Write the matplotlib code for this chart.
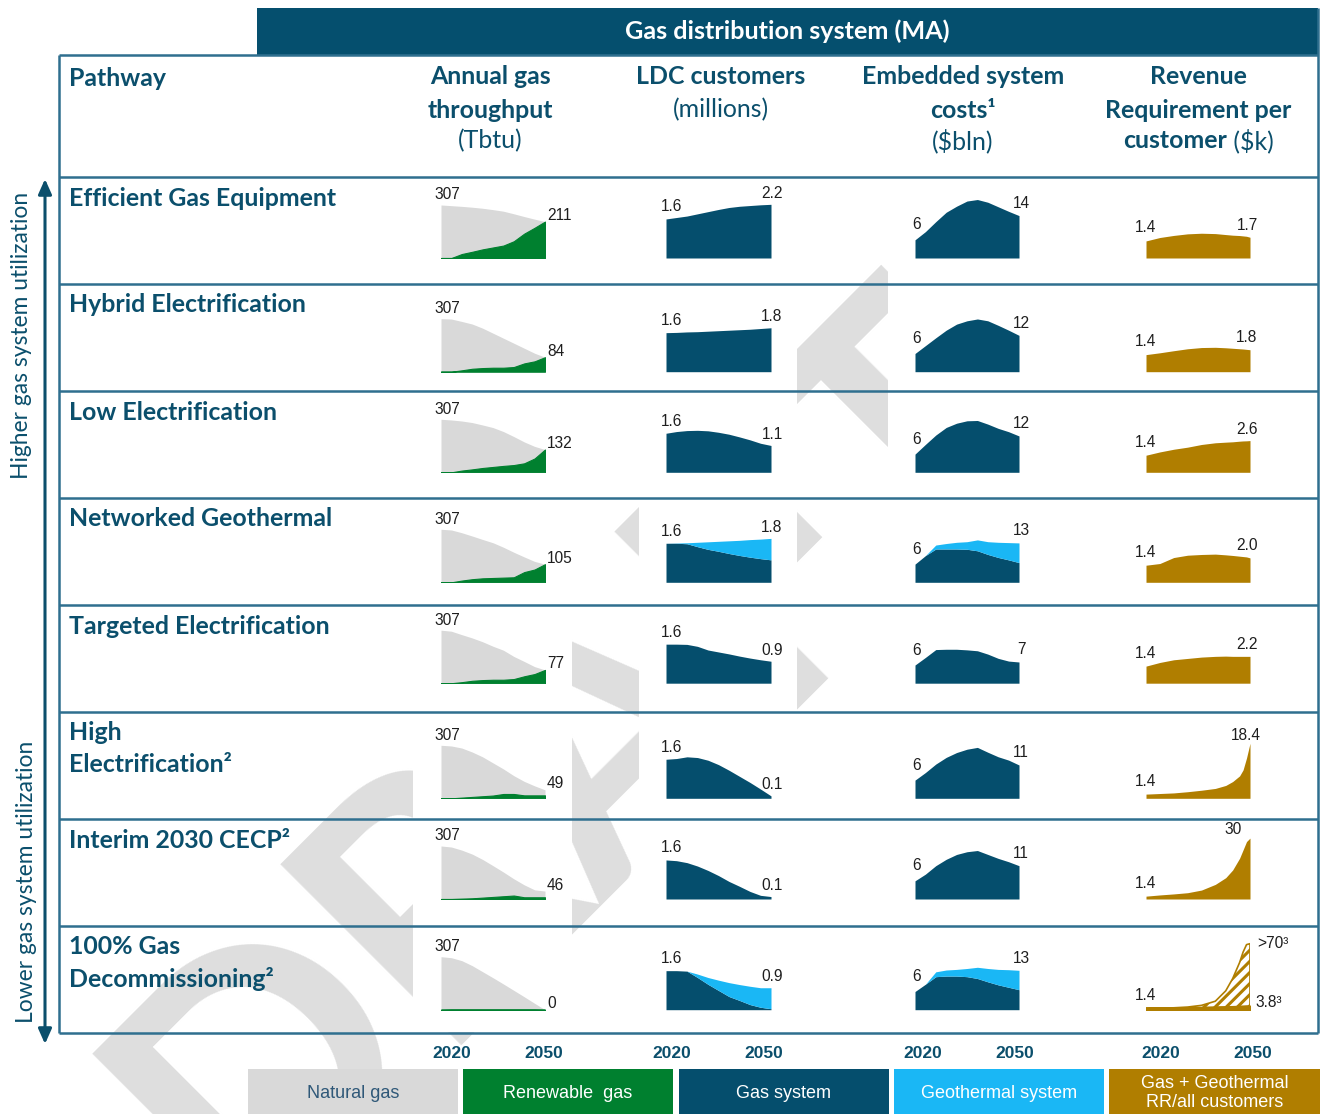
import matplotlib
matplotlib.use("Agg")
import matplotlib.pyplot as plt
import numpy as np
from matplotlib.patches import Rectangle, FancyArrowPatch

plt.rcParams["hatch.linewidth"] = 2.2

# ---------------------------------------------------------------- data
years = [2020, 2023, 2026, 2029, 2032, 2035, 2038, 2041, 2044, 2047, 2050]
rr_years = [2020, 2024, 2028, 2032, 2036, 2040, 2043, 2045, 2047, 2048, 2049, 2050]

pathways = ["Efficient Gas Equipment", "Hybrid Electrification", "Low Electrification",
            "Networked Geothermal", "Targeted Electrification", "High\nElectrification²",
            "Interim 2030 CECP²", "100% Gas\nDecommissioning²"]

# Annual gas throughput (Tbtu): total and renewable share
throughput_total = [
    [307, 303, 299, 294, 288, 280, 271, 256, 240, 225, 211],
    [307, 305, 291, 276, 252, 223, 194, 165, 136, 107, 84],
    [307, 303, 297, 288, 274, 259, 236, 207, 176, 150, 132],
    [307, 303, 287, 268, 248, 229, 203, 174, 147, 121, 105],
    [307, 301, 281, 262, 240, 214, 191, 155, 126, 96, 77],
    [307, 303, 291, 268, 240, 205, 170, 131, 98, 72, 49],
    [307, 301, 283, 260, 229, 193, 156, 117, 82, 53, 46],
    [307, 301, 284, 255, 220, 185, 149, 112, 75, 37, 0],
]
renewable_gas = [
    [0, 0, 23, 36, 50, 61, 72, 97, 141, 175, 211],
    [0, 0, 8, 17, 21, 23, 23, 27, 48, 60, 84],
    [0, 0, 10, 17, 25, 31, 37, 42, 52, 80, 132],
    [0, 0, 10, 18, 23, 25, 27, 29, 59, 74, 105],
    [0, 0, 6, 14, 18, 20, 20, 24, 40, 53, 77],
    [0, 0, 4, 8, 12, 16, 25, 25, 17, 17, 17],
    [0, 0, 2, 4, 8, 12, 16, 20, 10, 10, 10],
    [0, 1, 1, 1, 1, 1, 1, 1, 1, 1, 0],
]

# LDC customers (millions): gas system and geothermal system
ldc_gas = [
    [1.60, 1.66, 1.72, 1.81, 1.90, 1.99, 2.07, 2.12, 2.15, 2.18, 2.2],
    [1.60, 1.61, 1.63, 1.64, 1.66, 1.68, 1.70, 1.72, 1.74, 1.77, 1.8],
    [1.60, 1.67, 1.71, 1.72, 1.70, 1.64, 1.56, 1.45, 1.33, 1.19, 1.1],
    [1.60, 1.60, 1.58, 1.46, 1.35, 1.27, 1.18, 1.10, 1.03, 0.97, 0.92],
    [1.60, 1.60, 1.59, 1.51, 1.36, 1.28, 1.20, 1.11, 1.03, 0.96, 0.9],
    [1.60, 1.63, 1.70, 1.67, 1.56, 1.38, 1.15, 0.90, 0.65, 0.38, 0.1],
    [1.60, 1.57, 1.49, 1.35, 1.17, 0.96, 0.72, 0.52, 0.31, 0.15, 0.1],
    [1.60, 1.60, 1.58, 1.32, 1.04, 0.79, 0.54, 0.38, 0.21, 0.10, 0.04],
]
ldc_geo = [
    [0] * 11, [0] * 11, [0] * 11,
    [0, 0.01, 0.04, 0.18, 0.31, 0.41, 0.52, 0.62, 0.72, 0.80, 0.88],
    [0] * 11, [0] * 11, [0] * 11,
    [0, 0, 0, 0.14, 0.28, 0.42, 0.57, 0.65, 0.75, 0.80, 0.86],
]

# Embedded system costs ($bln): gas system and geothermal system
cost_gas = [
    [6, 8.7, 12.0, 15.1, 17.1, 18.8, 19.3, 18.4, 16.9, 15.4, 14],
    [6, 8.6, 11.2, 13.7, 15.7, 16.8, 17.4, 16.8, 15.3, 13.7, 12],
    [6, 9.2, 12.3, 14.8, 16.2, 17.0, 17.1, 15.9, 14.5, 13.4, 12],
    [6, 8.8, 11.0, 11.0, 11.0, 10.9, 10.4, 9.2, 8.2, 7.4, 6.5],
    [6, 8.5, 11.1, 11.2, 11.2, 11.0, 10.7, 9.6, 8.2, 7.3, 7],
    [6, 8.5, 11.3, 13.5, 15.1, 16.2, 16.8, 15.2, 13.7, 12.6, 11],
    [6, 8.2, 11.0, 13.1, 14.7, 15.6, 16.0, 14.7, 13.4, 12.3, 11],
    [6, 8.4, 10.9, 11.1, 11.1, 10.9, 10.3, 9.2, 8.2, 7.4, 6.6],
]
cost_geo = [
    [0] * 11, [0] * 11, [0] * 11,
    [0, 0, 1.3, 1.8, 2.2, 2.5, 3.6, 4.2, 5.0, 5.7, 6.5],
    [0] * 11, [0] * 11, [0] * 11,
    [0, 0, 1.6, 2.0, 2.2, 2.7, 3.7, 4.4, 5.1, 5.8, 6.4],
]

# Revenue requirement per customer ($k)
rr_gas = [
    [1.4, 1.68, 1.85, 1.98, 2.03, 2.0, 1.92, 1.87, 1.84, 1.81, 1.78, 1.7],
    [1.4, 1.55, 1.72, 1.88, 1.98, 2.0, 1.96, 1.92, 1.88, 1.86, 1.83, 1.8],
    [1.4, 1.67, 1.89, 2.06, 2.28, 2.42, 2.47, 2.50, 2.55, 2.57, 2.58, 2.6],
    [1.4, 1.54, 2.03, 2.22, 2.28, 2.31, 2.25, 2.20, 2.14, 2.11, 2.08, 2.0],
    [1.4, 1.70, 1.92, 2.03, 2.14, 2.20, 2.22, 2.2, 2.2, 2.2, 2.2, 2.2],
    [1.4, 1.6, 1.8, 2.2, 2.7, 3.3, 4.3, 5.6, 7.5, 9.5, 13.5, 18.4],
    [1.4, 2.0, 2.5, 3.1, 4.4, 7.2, 10.5, 14.3, 20.1, 24.2, 28.3, 30],
    [1.4, 1.5, 1.7, 1.9, 2.2, 2.6, 2.9, 3.1, 3.4, 3.5, 3.7, 3.8],
]
rr_all_customers = [1.4, 1.6, 2.0, 2.8, 4.6, 9, 20, 33, 50, 61, 69, 70]

gas_start_label = "307"
gas_end_labels = ["211", "84", "132", "105", "77", "49", "46", "0"]
ldc_start_label = "1.6"
ldc_end_labels = ["2.2", "1.8", "1.1", "1.8", "0.9", "0.1", "0.1", "0.9"]
cost_start_label = "6"
cost_end_labels = ["14", "12", "12", "13", "7", "11", "11", "13"]
rr_start_label = "1.4"
rr_end_labels = ["1.7", "1.8", "2.6", "2.0", "2.2", "18.4", "30", ">70³"]
rr_gas_end_label = "3.8³"

year_labels = ["2020", "2050"]
legend_labels = ["Natural gas", "Renewable  gas", "Gas system", "Geothermal system",
                 "Gas + Geothermal\nRR/all customers"]

# ---------------------------------------------------------------- style
NAVY = "#054E6D"
TXT = "#0B4F6C"
LINE = "#2F6F8F"
GREY = "#D9D9D9"
GREEN = "#00802F"
CYAN = "#1AB7F5"
GOLD = "#B07E00"
NUM_COLOR = "#1E1E1E"
legend_colors = [GREY, GREEN, NAVY, CYAN, GOLD]
legend_text_colors = ["#2F5878", "white", "white", "white", "white"]

HEAD_FONT = ["Lato", "DejaVu Sans"]
NUM_FONT = ["Liberation Sans", "DejaVu Sans"]
NUM_FS = 11.2

W, H = 1325, 1114
fig = plt.figure(figsize=(W / 100, H / 100), dpi=100)
bg = fig.add_axes([0, 0, 1, 1])
bg.set_xlim(0, W)
bg.set_ylim(H, 0)
bg.axis("off")

# faint watermark behind the table
mark = bg.text(651, 827, "DRAFT", rotation=0, fontsize=200, color="#DEDEDE",
               fontweight="bold", family=HEAD_FONT, ha="center", va="baseline",
               rotation_mode="anchor", zorder=0)

# white chart cells hide the watermark behind the graphs
for xa, xb in [(413, 572), (639, 797), (888, 1047), (1060, 1317)]:
    bg.add_patch(Rectangle((xa, 178), xb - xa, 1032 - 178, facecolor="white",
                           edgecolor="none", zorder=1))

# header band
bg.add_patch(Rectangle((257, 8), 1318 - 257, 47, facecolor="#054F6E",
                       edgecolor="none", zorder=2))
title = bg.text(787, 31, "Gas distribution system (MA)", color="white",
                fontweight="bold", family=HEAD_FONT, ha="center", va="center",
                fontsize=12, zorder=3)

# table frame and row separators
row_tops = [177, 284, 391, 498, 605, 712, 819, 926]
TABLE_L, TABLE_R, TABLE_T, TABLE_B = 59, 1318, 55, 1033
lkw = dict(color=LINE, lw=1.8, zorder=2, solid_capstyle="butt")
bg.plot([TABLE_L, TABLE_R], [TABLE_T, TABLE_T], **lkw)
bg.plot([TABLE_L, TABLE_L], [TABLE_T, TABLE_B], **lkw)
bg.plot([TABLE_R, TABLE_R], [8, TABLE_B], **lkw)
for yy in row_tops + [TABLE_B]:
    bg.plot([TABLE_L, TABLE_R], [yy, yy], **lkw)

# column headers
head_texts = []
def head(x, y, s, bold=True, ha="center"):
    t = bg.text(x, y, s, color=TXT, fontweight="bold" if bold else "normal",
                family=HEAD_FONT, ha=ha, va="center", fontsize=12, zorder=3)
    head_texts.append(t)
    return t

head(69, 78, "Pathway", ha="left")
head(490, 77, "Annual gas"); head(490, 110, "throughput"); head(490, 141, "(Tbtu)", bold=False)
head(721, 77, "LDC customers"); head(721, 110, "(millions)", bold=False)
head(963, 77, "Embedded system"); head(963, 110, "costs¹"); head(963, 141, "($bln)", bold=False)
head(1198, 77, "Revenue"); head(1198, 110, "Requirement per")
rr_bold = head(1198, 141, "customer", ha="left")
rr_reg = head(1198, 141, " ($k)", bold=False, ha="left")

# pathway names
row_texts = []
for top, name in zip(row_tops, pathways):
    for k, line in enumerate(name.split("\n")):
        row_texts.append(head(69, top + 21 + 32 * k, line, ha="left"))

# side arrow and labels
bg.add_patch(FancyArrowPatch((45, 1044), (45, 179), arrowstyle="<|-|>,head_length=9,head_width=4",
                             color=TXT, lw=2.2, zorder=3, shrinkA=0, shrinkB=0))
side_hi = bg.text(22, 335, "Higher gas system utilization", rotation=90, color=TXT,
                  family=HEAD_FONT, ha="center", va="center", fontsize=12, zorder=3)
side_lo = bg.text(27, 882, "Lower gas system utilization", rotation=90, color=TXT,
                  family=HEAD_FONT, ha="center", va="center", fontsize=12, zorder=3)

# scale the text so widths follow the table layout
fig.canvas.draw()
ren = fig.canvas.get_renderer()
ref = {"Efficient Gas Equipment": 266, "Hybrid Electrification": 236,
       "Low Electrification": 206, "Networked Geothermal": 265,
       "Targeted Electrification": 260, "Interim 2030 CECP²": 213}
ratios = [ref[t.get_text()] / t.get_window_extent(ren).width
          for t in row_texts if t.get_text() in ref]
head_fs = 12 * float(np.median(ratios))
for t in head_texts:
    t.set_fontsize(head_fs)
title.set_fontsize(12 * 324 / title.get_window_extent(ren).width)
side_hi.set_fontsize(12 * 286 / side_hi.get_window_extent(ren).height)
side_lo.set_fontsize(12 * 281 / side_lo.get_window_extent(ren).height)
mark.set_fontsize(200 * 1150 / mark.get_window_extent(ren).width)
mark.set_rotation(45)
fig.canvas.draw()
wb = rr_bold.get_window_extent(ren).width
wr = rr_reg.get_window_extent(ren).width
x0 = 1198 - (wb + wr) / 2
rr_bold.set_x(x0)
rr_reg.set_x(x0 + wb)

# ---------------------------------------------------------------- mini charts
baselines = [258, 371.7, 472.3, 582.3, 683.2, 798.3, 899, 1009.7]
AX_H = 80
gas_x, ldc_x, cost_x, rr_x = (441, 104), (666, 105), (915, 104), (1146, 104)
gas_px, ldc_px, cost_px = 0.1727, 24.4, 3.03          # pixels per unit
rr_px = [12.2, 12.2, 12.2, 12.2, 12.2, 2.99, 2.03, 0.943]
rr_end_dx = [-3, -3, -3, -3, -3, -4, -17, 7]
rr_end_dy = [12, 12, 11, 12, 12, 8, 9, 0]


def mini_axes(col, base, px_per_unit):
    x0, w = col
    ax = fig.add_axes([x0 / W, 1 - base / H, w / W, AX_H / H])
    ax.set_xlim(2020, 2050)
    ax.set_ylim(0, AX_H / px_per_unit)
    ax.axis("off")
    return ax


def num(ax, s, x, y, dx, dy, ha="center"):
    ax.annotate(s, (x, y), xytext=(dx, dy), textcoords="offset pixels", ha=ha,
                va="center", fontsize=NUM_FS, family=NUM_FONT, color=NUM_COLOR,
                annotation_clip=False)


for i, base in enumerate(baselines):
    # annual gas throughput
    ax = mini_axes(gas_x, base, gas_px)
    ax.fill_between(years, 0, throughput_total[i], color=GREY, lw=0)
    ax.fill_between(years, 0, renewable_gas[i], facecolor=GREEN, edgecolor=GREEN, lw=0.8)
    num(ax, gas_start_label, years[0], throughput_total[i][0], 6, 10)
    num(ax, gas_end_labels[i], years[-1], throughput_total[i][-1], 2, 6, ha="left")

    # LDC customers
    ax = mini_axes(ldc_x, base, ldc_px)
    g = np.array(ldc_gas[i])
    geo = np.array(ldc_geo[i])
    ax.fill_between(years, 0, g, color=NAVY, lw=0)
    if geo.any():
        ax.fill_between(years, g, g + geo, color=CYAN, lw=0)
    num(ax, ldc_start_label, years[0], g[0], 6, 12)
    num(ax, ldc_end_labels[i], years[-1], g[-1] + geo[-1], 1, 11)

    # embedded system costs
    ax = mini_axes(cost_x, base, cost_px)
    c = np.array(cost_gas[i])
    cg = np.array(cost_geo[i])
    ax.fill_between(years, 0, c, color=NAVY, lw=0)
    if cg.any():
        ax.fill_between(years, c, c + cg, color=CYAN, lw=0)
    num(ax, cost_start_label, years[0], c[0], 2, 15)
    num(ax, cost_end_labels[i], years[-1], c[-1] + cg[-1], 2, 12)

    # revenue requirement per customer
    ax = mini_axes(rr_x, base, rr_px[i])
    r = rr_gas[i]
    if i == len(baselines) - 1:
        ax.fill_between(rr_years, r, rr_all_customers, facecolor="white",
                        edgecolor=GOLD, hatch="///", lw=1.2)
        ax.fill_between(rr_years, 0, r, facecolor=GOLD, edgecolor=GOLD, lw=1.6)
        num(ax, rr_end_labels[i], rr_years[-1], rr_all_customers[-1], rr_end_dx[i],
            rr_end_dy[i], ha="left")
        num(ax, rr_gas_end_label, rr_years[-1], r[-1], 5, 4, ha="left")
    else:
        ax.fill_between(rr_years, 0, r, color=GOLD, lw=0)
        num(ax, rr_end_labels[i], rr_years[-1], r[-1], rr_end_dx[i], rr_end_dy[i])
    num(ax, rr_start_label, rr_years[0], r[0], 0, 13)

# ---------------------------------------------------------------- year axis and legend
year_x = [(452, 544), (672, 764), (923, 1015), (1161, 1253)]
for xa, xb in year_x:
    for xx, lab in zip((xa, xb), year_labels):
        bg.text(xx, 1053, lab, color=TXT, fontweight="bold", family=NUM_FONT,
                fontsize=12.5, ha="center", va="center", zorder=3)

legend_x = [(248, 458), (463, 673), (679, 889), (894, 1104), (1109, 1320)]
for (xa, xb), lab, fc, tc in zip(legend_x, legend_labels, legend_colors, legend_text_colors):
    bg.add_patch(Rectangle((xa, 1069), xb - xa, 50, facecolor=fc, edgecolor="none", zorder=2))
    bg.text((xa + xb) / 2, 1093, lab, color=tc, family=NUM_FONT, fontsize=13,
            ha="center", va="center", linespacing=1.15, zorder=3)

fig.savefig("out.png", dpi=100)
